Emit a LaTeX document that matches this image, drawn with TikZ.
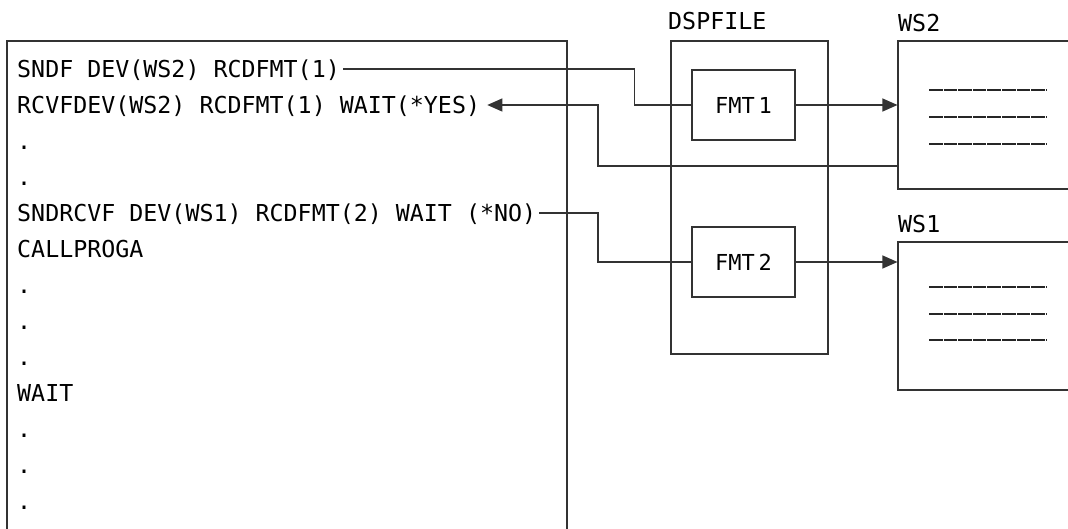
\documentclass[tikz,border=0pt]{standalone}
\usepackage{fontspec}
\usetikzlibrary{arrows.meta,calc}
\newfontfamily\codefont{DejaVu Sans Mono}
\begin{document}
\begin{tikzpicture}[x=1pt,y=-1pt,
  ln/.style={line width=1.1pt,draw=black!80},
  code/.style={font=\codefont\fontsize{23.3}{28}\selectfont,anchor=west,inner xsep=3pt,inner ysep=0pt,text height=17pt,text depth=0pt},
  lbl/.style={font=\codefont\fontsize{23.3}{28}\selectfont,anchor=west,inner sep=0pt,text height=17pt,text depth=0pt},
  fmtbox/.style={ln,minimum width=103pt,minimum height=70pt,inner sep=0pt,font=\codefont\fontsize{22}{26}\selectfont,execute at begin node={\spaceskip=4pt\relax}},
  wsbox/.style={ln,minimum width=180pt,minimum height=148pt,inner sep=0pt},
  arr/.style={ln,-{Triangle[length=15pt,width=13pt]}},
  under/.style={line width=2.2pt,draw=black!85,dash pattern=on 13.6pt off 1pt}
]
\useasboundingbox (0,0) rectangle (1068,529);
\fill[white] (0,0) rectangle (1068,529);

% program listing box (open at bottom)
\draw[ln] (7,531) -- (7,41) -- (567,41) -- (567,531);

\node[code] (l1)  at (14,69)  {SNDF DEV(WS2) RCDFMT(1)};
\node[code] (l2)  at (14,105) {RCVFDEV(WS2) RCDFMT(1) WAIT(*YES)};
\node[code] (l3)  at (14,141) {.};
\node[code] (l4)  at (14,177) {.};
\node[code] (l5)  at (14,213) {SNDRCVF DEV(WS1) RCDFMT(2) WAIT (*NO)};
\node[code] (l6)  at (14,249) {CALLPROGA};
\node[code] (l7)  at (14,285) {.};
\node[code] (l8)  at (14,321) {.};
\node[code] (l9)  at (14,357) {.};
\node[code] (l10) at (14,393) {WAIT};
\node[code] (l11) at (14,429) {.};
\node[code] (l12) at (14,465) {.};
\node[code] (l13) at (14,501) {.};

% display file
\node[ln,minimum width=157pt,minimum height=313pt,inner sep=0pt] (dsp) at (749.5,197.5) {};
\node[lbl] (dsplbl) at (668,21) {DSPFILE};
\node[fmtbox] (fmt1) at (743.5,105) {FMT 1};
\node[fmtbox] (fmt2) at (743.5,262) {FMT 2};

% workstations (cut off at the right edge)
\node[wsbox] (ws2) at (988,115) {};
\node[wsbox] (ws1) at (988,316) {};
\node[lbl] (ws2lbl) at (898,23) {WS2};
\node[lbl] (ws1lbl) at (898,224) {WS1};

\foreach \y in {90,117,144} \draw[under] (929,\y) -- (1046,\y);
\foreach \y in {287,314,340} \draw[under] (929,\y) -- (1046,\y);

% connectors
\draw[ln] (l1.east) -| ($(fmt1.west)+(-57,0)$) -- (fmt1.west);
\draw[arr] (fmt1.east) -- (fmt1.east -| ws2.west);
\draw[arr] (ws2.west |- 0,166) -| (598,105) -- ([xshift=4pt]l2.east);
\draw[ln] (l5.east) -| (598,262) -- (fmt2.west);
\draw[arr] (fmt2.east) -- (fmt2.east -| ws1.west);
\end{tikzpicture}
\end{document}
